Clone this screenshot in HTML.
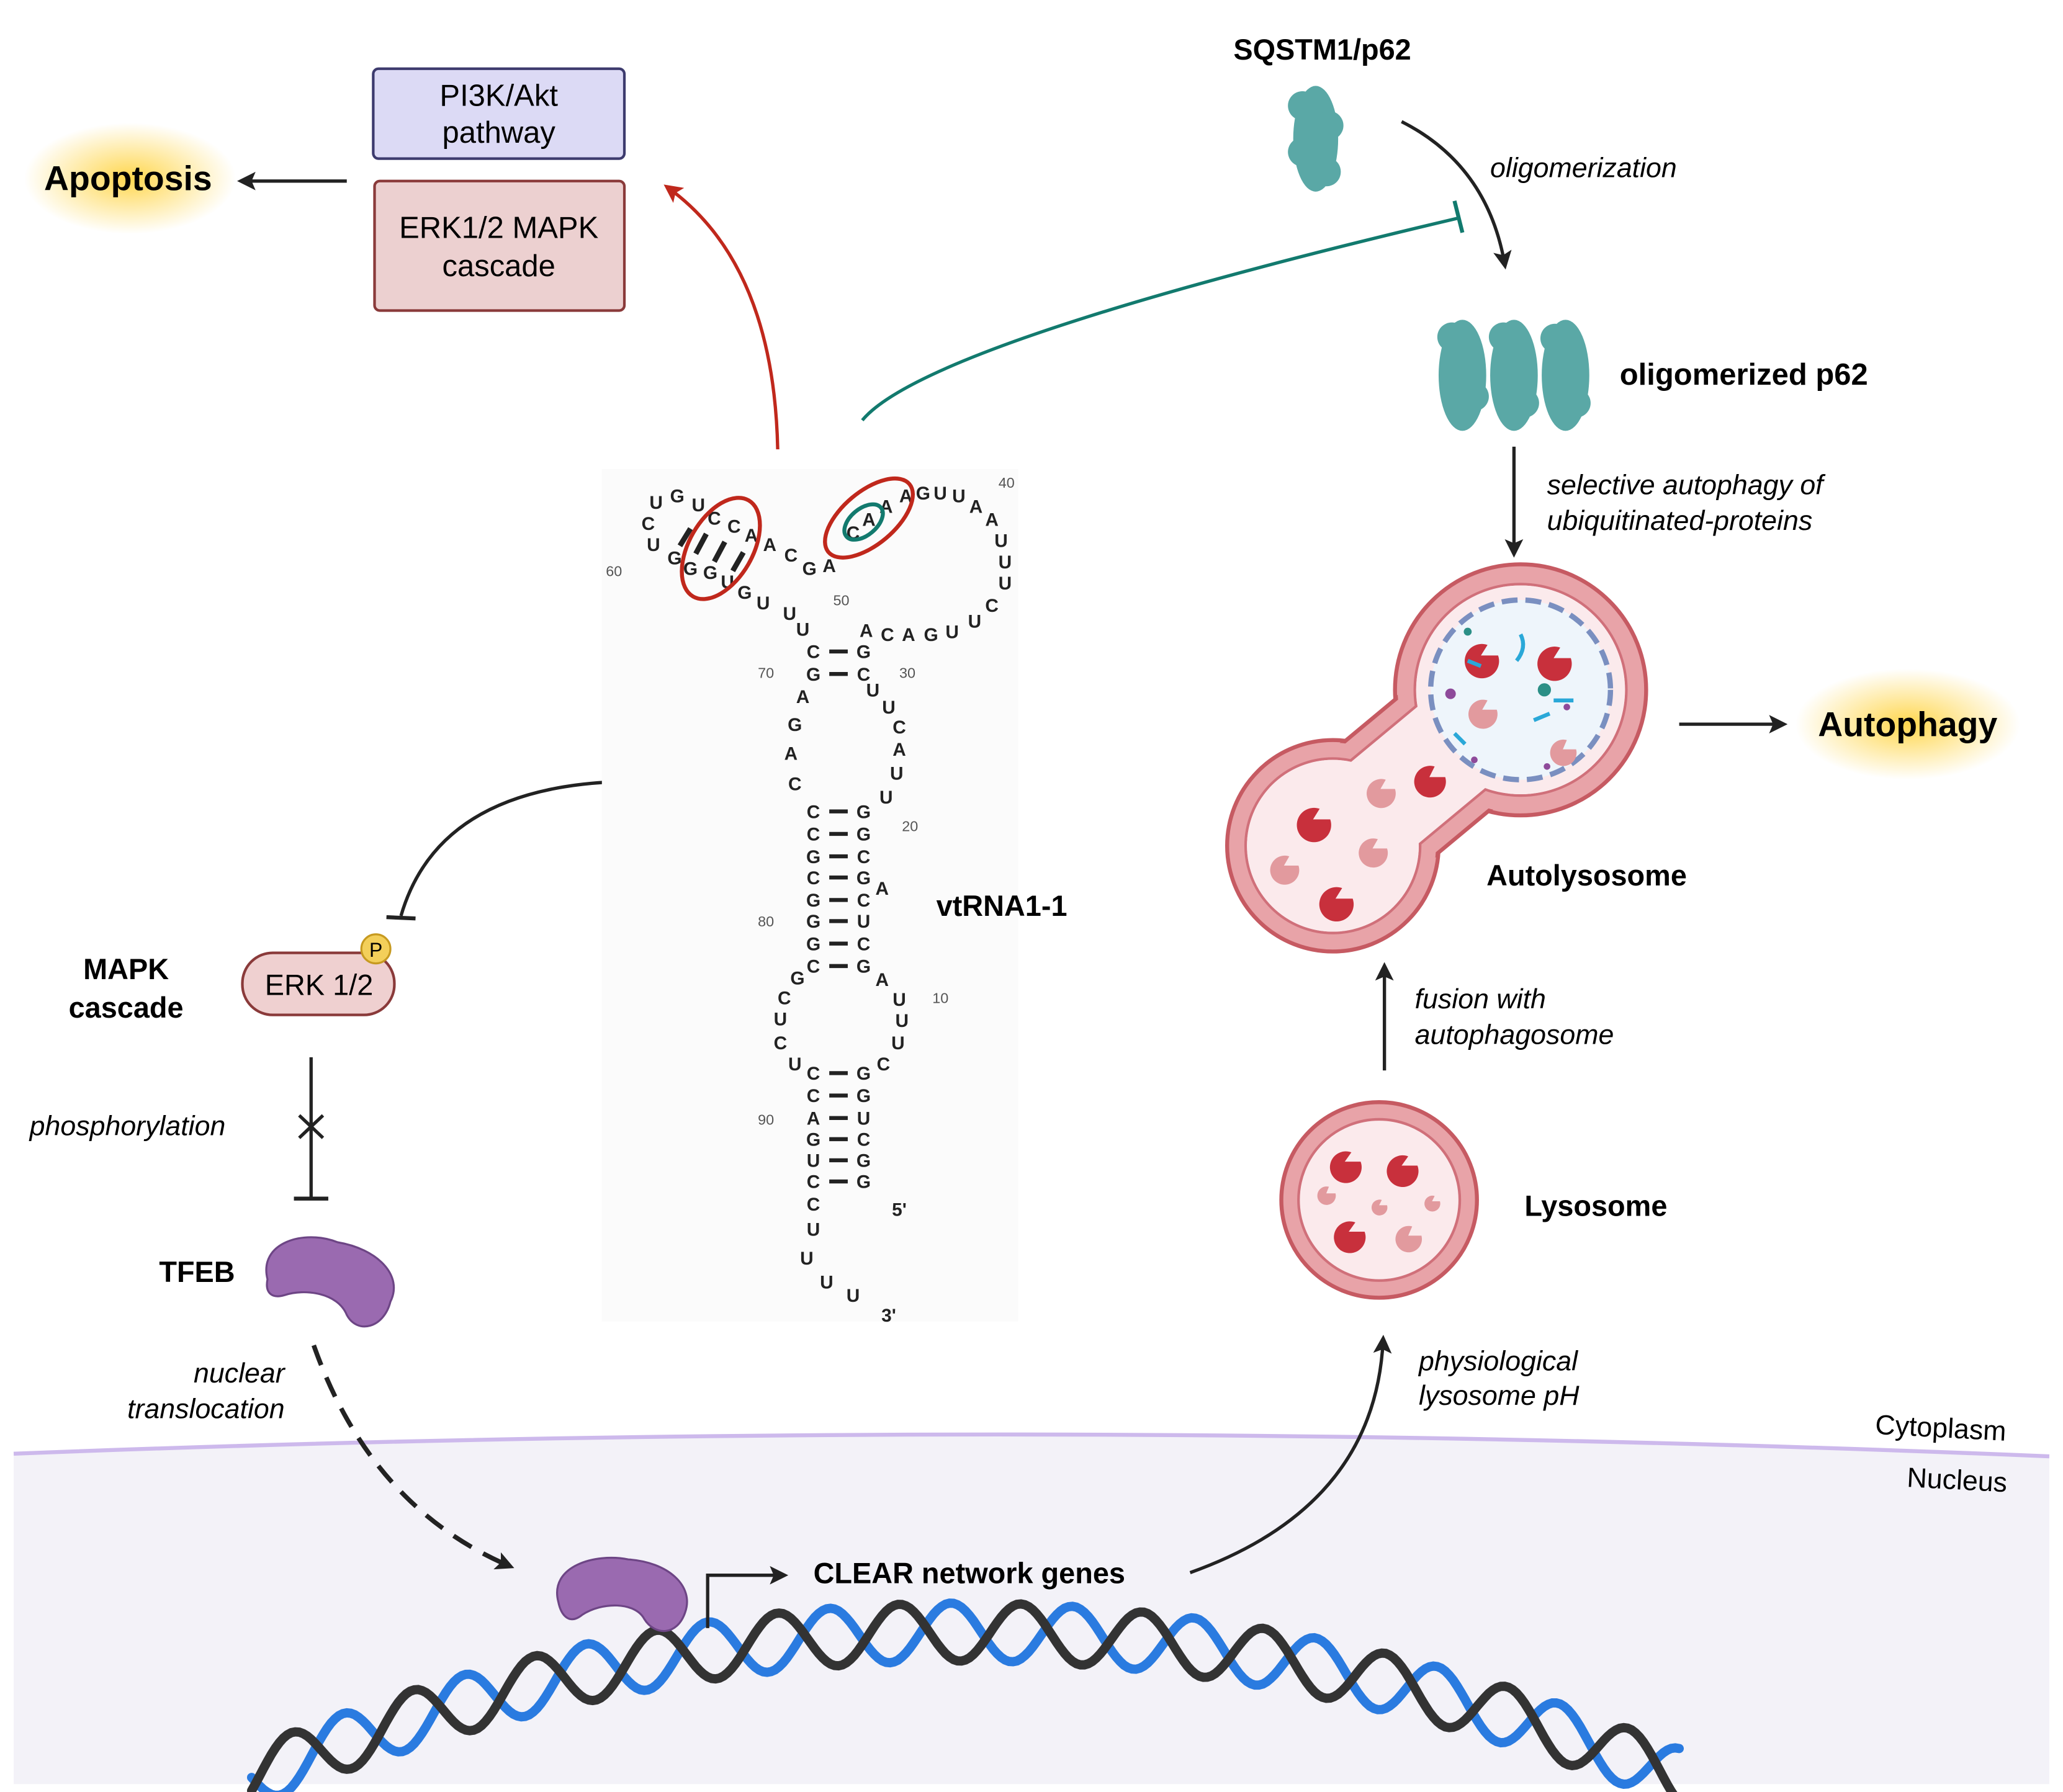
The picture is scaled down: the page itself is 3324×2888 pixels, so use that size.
<!DOCTYPE html>
<html><head><meta charset="utf-8"><style>
html,body{margin:0;padding:0;background:#fff}
svg{display:block}
text{font-family:"Liberation Sans",sans-serif}
.b{font-weight:bold}
.i{font-style:italic}
.r{font-size:14px;font-weight:bold;fill:#222}
.n{font-size:11px;fill:#555}
</style></head><body>
<svg width="3324" height="2888" viewBox="0 0 1560 1356" xmlns="http://www.w3.org/2000/svg">
<defs>
<radialGradient id="glow"><stop offset="0" stop-color="#ffd23a" stop-opacity="0.9"/><stop offset="1" stop-color="#ffd23a" stop-opacity="0"/></radialGradient>
<marker id="ak2" markerWidth="14" markerHeight="14" refX="10" refY="7" orient="auto" markerUnits="userSpaceOnUse"><path d="M0,0 L14,7 L0,14 L3,7 Z" fill="#222"/></marker>
<marker id="ar" markerWidth="14" markerHeight="14" refX="10" refY="7" orient="auto" markerUnits="userSpaceOnUse"><path d="M0,0 L14,7 L0,14 L3,7 Z" fill="#c0281c"/></marker>
</defs>
<!-- nucleus -->
<path d="M10,1100 Q780,1070 1550,1102 L1550,1350 L10,1350 Z" fill="#f3f2f8"/>
<path d="M10,1100 Q780,1070 1550,1102" fill="none" stroke="#cdb9ec" stroke-width="3"/>
<text x="1418" y="1085" font-size="21" transform="rotate(3 1418 1085)">Cytoplasm</text>
<text x="1442" y="1125" font-size="21" transform="rotate(3 1442 1125)">Nucleus</text>
<g id="dnag"></g>
<!-- boxes -->
<rect x="282" y="52" width="190" height="68" rx="4" fill="#dcdaf5" stroke="#3d3b6e" stroke-width="2"/>
<text x="377" y="80" font-size="23" text-anchor="middle">PI3K/Akt</text>
<text x="377" y="108" font-size="23" text-anchor="middle">pathway</text>
<rect x="283" y="137" width="189" height="98" rx="4" fill="#ecd0d0" stroke="#8a3a3a" stroke-width="2"/>
<text x="377" y="180" font-size="23" text-anchor="middle">ERK1/2 MAPK</text>
<text x="377" y="209" font-size="23" text-anchor="middle">cascade</text>
<ellipse cx="98" cy="135" rx="80" ry="42" fill="url(#glow)"/>
<text x="33" y="144" font-size="26" class="b">Apoptosis</text>
<line x1="262" y1="137" x2="183" y2="137" stroke="#222" stroke-width="2.5" marker-end="url(#ak2)"/>
<path d="M588,340 Q585,200 505,142" fill="none" stroke="#c0281c" stroke-width="2.5" marker-end="url(#ar)"/>
<path d="M652,318 Q700,260 1103,165" fill="none" stroke="#127a6e" stroke-width="2.5"/>
<line x1="1100" y1="152" x2="1106" y2="176" stroke="#127a6e" stroke-width="3"/>
<!-- p62 -->
<text x="1000" y="45" font-size="22" class="b" text-anchor="middle">SQSTM1/p62</text>
<g fill="#5aa8a6">
<ellipse cx="995" cy="105" rx="17" ry="40"/>
<circle cx="985" cy="80" r="11"/><circle cx="1005" cy="95" r="11"/><circle cx="985" cy="115" r="11"/><circle cx="1003" cy="130" r="11"/>
</g>
<path d="M1060,92 Q1125,125 1138,200" fill="none" stroke="#222" stroke-width="2.5" marker-end="url(#ak2)"/>
<text x="1127" y="134" font-size="21" class="i">oligomerization</text>
<g fill="#5aa8a6">
<ellipse cx="1106" cy="284" rx="18" ry="42"/><ellipse cx="1145" cy="284" rx="18" ry="42"/><ellipse cx="1184" cy="284" rx="18" ry="42"/>
<circle cx="1098" cy="255" r="11"/><circle cx="1115" cy="300" r="11"/><circle cx="1137" cy="255" r="11"/><circle cx="1153" cy="305" r="11"/><circle cx="1176" cy="256" r="11"/><circle cx="1192" cy="305" r="11"/>
</g>
<text x="1225" y="291" font-size="23" class="b">oligomerized p62</text>
<line x1="1145" y1="338" x2="1145" y2="418" stroke="#222" stroke-width="2.5" marker-end="url(#ak2)"/>
<text x="1170" y="374" font-size="21" class="i">selective autophagy of</text>
<text x="1170" y="401" font-size="21" class="i">ubiquitinated-proteins</text>
<!-- autolysosome -->
<g fill="#e8a3a8" stroke="#c65a62" stroke-width="3">
<circle cx="1150" cy="522" r="95"/><circle cx="1008" cy="640" r="80"/>
<line x1="1150" y1="522" x2="1008" y2="640" stroke-width="113"/>
</g>
<g fill="#e8a3a8" stroke="none">
<circle cx="1150" cy="522" r="93"/><circle cx="1008" cy="640" r="78"/>
<line x1="1150" y1="522" x2="1008" y2="640" stroke="#e8a3a8" stroke-width="107"/>
</g>
<g fill="#fbeaec" stroke="#d0707a" stroke-width="2">
<circle cx="1150" cy="522" r="80"/><circle cx="1008" cy="640" r="66"/>
<line x1="1150" y1="522" x2="1008" y2="640" stroke-width="84"/>
</g>
<g fill="#fbeaec">
<circle cx="1150" cy="522" r="79"/><circle cx="1008" cy="640" r="65"/>
<line x1="1150" y1="522" x2="1008" y2="640" stroke="#fbeaec" stroke-width="80"/>
</g>
<circle cx="1150" cy="522" r="68" fill="#eef5fb" stroke="#7a8fc0" stroke-width="4" stroke-dasharray="12 6"/>
<g fill="#c8303c">
<path d="M1125,488 a13,13 0 1 0 8,8 l-13,0z"/><path d="M1180,490 a13,13 0 1 0 8,8 l-13,0z"/>
<path d="M998,612 a13,13 0 1 0 8,8 l-13,0z"/><path d="M1015,672 a13,13 0 1 0 8,8 l-13,0z"/><path d="M1085,580 a12,12 0 1 0 8,8 l-12,0z"/>
</g>
<g fill="#e29a9e">
<path d="M1125,530 a11,11 0 1 0 7,7 l-11,0z"/><path d="M1185,560 a10,10 0 1 0 7,7 l-10,0z"/>
<path d="M1048,590 a11,11 0 1 0 7,7 l-11,0z"/><path d="M1042,635 a11,11 0 1 0 7,7 l-11,0z"/><path d="M975,648 a11,11 0 1 0 7,7 l-11,0z"/>
</g>
<g stroke="#2aa8d8" stroke-width="3" fill="none"><path d="M1150,480 q5,10 -3,20"/><path d="M1160,545 l12,-5"/><path d="M1100,555 l8,8"/><path d="M1175,530 l15,0"/><path d="M1110,500 l10,4"/></g>
<g fill="#8e4a9a"><circle cx="1097" cy="525" r="4"/><circle cx="1115" cy="575" r="2.5"/><circle cx="1170" cy="580" r="2.5"/><circle cx="1185" cy="535" r="2.5"/></g>
<circle cx="1168" cy="522" r="5" fill="#2b8f86"/><circle cx="1110" cy="478" r="3" fill="#2b8f86"/>
<text x="1200" y="670" font-size="22" class="b" text-anchor="middle">Autolysosome</text>
<line x1="1270" y1="548" x2="1348" y2="548" stroke="#222" stroke-width="2.5" marker-end="url(#ak2)"/>
<ellipse cx="1443" cy="548" rx="85" ry="42" fill="url(#glow)"/>
<text x="1375" y="557" font-size="26" class="b">Autophagy</text>
<!-- lysosome -->
<line x1="1047" y1="810" x2="1047" y2="732" stroke="#222" stroke-width="2.5" marker-end="url(#ak2)"/>
<text x="1070" y="763" font-size="21" class="i">fusion with</text>
<text x="1070" y="790" font-size="21" class="i">autophagosome</text>
<circle cx="1043" cy="908" r="74" fill="#e8a3a8" stroke="#c65a62" stroke-width="3"/>
<circle cx="1043" cy="908" r="61" fill="#fbeaec" stroke="#d0707a" stroke-width="2"/>
<g fill="#c8303c"><path d="M1022,872 a12,12 0 1 0 7,7 l-12,0z"/><path d="M1065,875 a12,12 0 1 0 7,7 l-12,0z"/><path d="M1025,925 a12,12 0 1 0 7,7 l-12,0z"/></g>
<g fill="#e29a9e"><path d="M1068,928 a10,10 0 1 0 7,7 l-10,0z"/><path d="M1005,898 a7,7 0 1 0 5,5 l-7,0z"/><path d="M1045,908 a6,6 0 1 0 4,4 l-6,0z"/><path d="M1085,905 a6,6 0 1 0 4,4 l-6,0z"/></g>
<text x="1153" y="920" font-size="22" class="b">Lysosome</text>
<path d="M900,1190 Q1040,1140 1046,1014" fill="none" stroke="#222" stroke-width="2.5" marker-end="url(#ak2)"/>
<text x="1073" y="1037" font-size="21" class="i">physiological</text>
<text x="1073" y="1063" font-size="21" class="i">lysosome pH</text>
<!-- left side -->
<path d="M457,592 Q330,600 303,693" fill="none" stroke="#222" stroke-width="2.5"/>
<line x1="292" y1="694" x2="314" y2="695" stroke="#222" stroke-width="3"/>
<text x="95" y="741" font-size="22" class="b" text-anchor="middle">MAPK</text>
<text x="95" y="770" font-size="22" class="b" text-anchor="middle">cascade</text>
<rect x="183" y="721" width="115" height="47" rx="23" fill="#efd0d0" stroke="#8a3a3a" stroke-width="2"/>
<text x="241" y="753" font-size="22" text-anchor="middle">ERK 1/2</text>
<circle cx="284" cy="718" r="11" fill="#f3cf5a" stroke="#c79a20" stroke-width="1.5"/>
<text x="284" y="724" font-size="15" text-anchor="middle">P</text>
<line x1="235" y1="800" x2="235" y2="906" stroke="#222" stroke-width="2.5"/>
<line x1="222" y1="907" x2="248" y2="907" stroke="#222" stroke-width="3"/>
<path d="M226,844 L244,861 M244,844 L226,861" stroke="#222" stroke-width="2.5"/>
<text x="22" y="859" font-size="21" class="i">phosphorylation</text>
<text x="120" y="970" font-size="22" class="b">TFEB</text>
<path d="M202,968 C195,940 230,930 255,940 C285,945 305,965 295,985 C290,1005 270,1010 262,995 C255,978 230,975 215,980 C205,983 200,978 202,968 Z" fill="#9a6ab0" stroke="#6d4585" stroke-width="1.5"/>
<path d="M237,1018 Q280,1140 385,1185" fill="none" stroke="#222" stroke-width="3.5" stroke-dasharray="16 10" marker-end="url(#ak2)"/>
<text x="215" y="1046" font-size="21" class="i" text-anchor="end">nuclear</text>
<text x="215" y="1073" font-size="21" class="i" text-anchor="end">translocation</text>
<path d="M422,1212 C415,1185 450,1175 475,1180 C505,1182 525,1200 518,1220 C512,1238 495,1238 487,1225 C480,1212 455,1212 440,1222 C430,1230 424,1222 422,1212 Z" fill="#9a6ab0" stroke="#6d4585" stroke-width="1.5"/>
<path d="M535,1232 L535,1192 L592,1192" fill="none" stroke="#222" stroke-width="2.5" marker-end="url(#ak2)"/>
<text x="615" y="1198" font-size="22" class="b">CLEAR network genes</text>
<!-- RNA -->
<rect x="455" y="355" width="315" height="645" fill="#fbfbfb"/>
<text x="708" y="693" font-size="22" class="b">vtRNA1-1</text>
<g class="r" text-anchor="middle">
<text x="615" y="498">C</text><text x="653" y="498">G</text>
<text x="615" y="515">G</text><text x="653" y="515">C</text>
<text x="607" y="532">A</text><text x="601" y="553">G</text><text x="598" y="575">A</text><text x="601" y="598">C</text>
<text x="660" y="527">U</text><text x="672" y="540">U</text><text x="680" y="555">C</text><text x="680" y="572">A</text><text x="678" y="590">U</text><text x="670" y="608">U</text>
<text x="615" y="619">C</text><text x="653" y="619">G</text>
<text x="615" y="636">C</text><text x="653" y="636">G</text>
<text x="615" y="653">G</text><text x="653" y="653">C</text>
<text x="615" y="669">C</text><text x="653" y="669">G</text><text x="667" y="677">A</text>
<text x="615" y="686">G</text><text x="653" y="686">C</text>
<text x="615" y="702">G</text><text x="653" y="702">U</text>
<text x="615" y="719">G</text><text x="653" y="719">C</text>
<text x="615" y="736">C</text><text x="653" y="736">G</text>
<text x="603" y="745">G</text><text x="593" y="760">C</text><text x="590" y="776">U</text><text x="590" y="794">C</text><text x="601" y="810">U</text>
<text x="667" y="746">A</text><text x="680" y="761">U</text><text x="682" y="777">U</text><text x="679" y="794">U</text><text x="668" y="810">C</text>
<text x="615" y="817">C</text><text x="653" y="817">G</text>
<text x="615" y="834">C</text><text x="653" y="834">G</text>
<text x="615" y="851">A</text><text x="653" y="851">U</text>
<text x="615" y="867">G</text><text x="653" y="867">C</text>
<text x="615" y="883">U</text><text x="653" y="883">G</text>
<text x="615" y="899">C</text><text x="653" y="899">G</text>
<text x="615" y="916">C</text><text x="615" y="935">U</text><text x="610" y="957">U</text><text x="625" y="975">U</text><text x="645" y="985">U</text>
<text x="607" y="481">U</text>
<text x="655" y="482">A</text><text x="671" y="485">C</text><text x="687" y="485">A</text><text x="704" y="485">G</text><text x="720" y="483">U</text><text x="737" y="475">U</text><text x="750" y="463">C</text><text x="760" y="446">U</text><text x="760" y="430">U</text><text x="757" y="414">U</text><text x="750" y="398">A</text><text x="738" y="388">A</text><text x="725" y="380">U</text><text x="711" y="378">U</text><text x="698" y="378">G</text><text x="685" y="380">A</text><text x="670" y="388">A</text><text x="657" y="398">A</text><text x="645" y="408">C</text><text x="627" y="433">A</text><text x="612" y="435">G</text><text x="598" y="425">C</text>
<text x="582" y="417">A</text><text x="568" y="410">A</text><text x="555" y="403">C</text><text x="540" y="397">C</text><text x="528" y="387">U</text><text x="512" y="380">G</text><text x="496" y="385">U</text><text x="490" y="401">C</text><text x="494" y="417">U</text><text x="510" y="427">G</text><text x="522" y="435">G</text><text x="537" y="438">G</text><text x="550" y="445">U</text><text x="563" y="453">G</text><text x="577" y="461">U</text><text x="597" y="469">U</text>
<text x="680" y="920">5'</text><text x="672" y="1000">3'</text>
</g>
<g stroke="#222" stroke-width="3">
<line x1="627" y1="493" x2="641" y2="493"/><line x1="627" y1="510" x2="641" y2="510"/>
<line x1="627" y1="614" x2="641" y2="614"/><line x1="627" y1="631" x2="641" y2="631"/><line x1="627" y1="648" x2="641" y2="648"/><line x1="627" y1="664" x2="641" y2="664"/><line x1="627" y1="681" x2="641" y2="681"/><line x1="627" y1="697" x2="641" y2="697"/><line x1="627" y1="714" x2="641" y2="714"/><line x1="627" y1="731" x2="641" y2="731"/>
<line x1="627" y1="812" x2="641" y2="812"/><line x1="627" y1="829" x2="641" y2="829"/><line x1="627" y1="846" x2="641" y2="846"/><line x1="627" y1="862" x2="641" y2="862"/><line x1="627" y1="878" x2="641" y2="878"/><line x1="627" y1="894" x2="641" y2="894"/>
<line x1="522" y1="400" x2="514" y2="413" stroke-width="4"/><line x1="534" y1="404" x2="526" y2="419" stroke-width="4"/><line x1="548" y1="410" x2="540" y2="425" stroke-width="4"/><line x1="562" y1="418" x2="554" y2="432" stroke-width="4"/>
</g>
<g class="n">
<text x="573" y="513">70</text><text x="680" y="513">30</text><text x="682" y="629">20</text><text x="573" y="701">80</text><text x="705" y="759">10</text><text x="573" y="851">90</text><text x="458" y="436">60</text><text x="630" y="458">50</text><text x="755" y="369">40</text>
</g>
<ellipse cx="545" cy="415" rx="24" ry="42" transform="rotate(30 545 415)" fill="none" stroke="#c0281c" stroke-width="3"/>
<ellipse cx="657" cy="392" rx="40" ry="20" transform="rotate(-40 657 392)" fill="none" stroke="#c0281c" stroke-width="3"/>
<ellipse cx="653" cy="395" rx="17" ry="10" transform="rotate(-40 653 395)" fill="none" stroke="#127a6e" stroke-width="3"/>
<script>
(function(){
var g=document.getElementById('dnag');
function base(x){var t=(x-190)/(1270-190);return 1345-4*110*t*(1-t);}
function strand(ph,col){var d='';for(var x=190;x<=1270;x+=3){var y=base(x)+22*Math.sin((x-190)/92*2*Math.PI+ph);d+=(x==190?'M':'L')+x+','+y.toFixed(1);}
var p=document.createElementNS('http://www.w3.org/2000/svg','path');p.setAttribute('d',d);p.setAttribute('fill','none');p.setAttribute('stroke',col);p.setAttribute('stroke-width','7');p.setAttribute('stroke-linecap','round');g.appendChild(p);}
strand(0,'#2a7be0');strand(Math.PI*0.85,'#333');
})();
</script>
</svg>
</body></html>
